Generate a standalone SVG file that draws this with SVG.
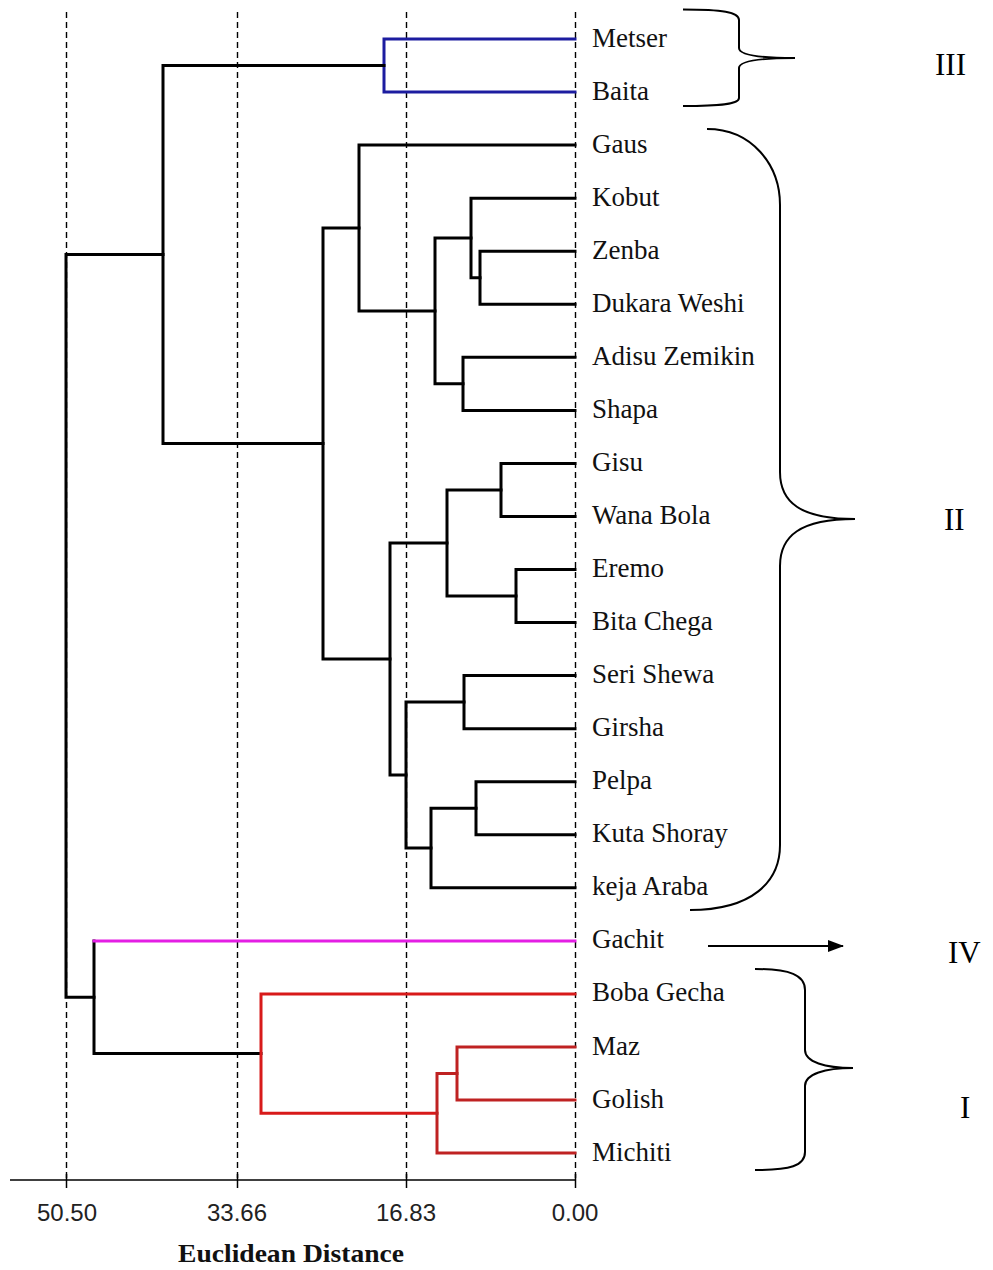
<svg xmlns="http://www.w3.org/2000/svg" width="993" height="1270" viewBox="0 0 993 1270">
<defs>
<style>
.grid{stroke:#000;stroke-width:1.4;stroke-dasharray:6,4;fill:none}
.br{stroke:#000;stroke-width:3;fill:none}
.bk{stroke:#000}
.bl{stroke:#1c1ca0}
.pk{stroke:#e41ee4}
.rd{stroke:#d81a1a}
.rd2{stroke:#bf2222}
.lab{font-family:"Liberation Serif","Times New Roman",serif;font-size:27px;fill:#111}
.num{font-family:"Liberation Serif","Times New Roman",serif;font-size:31px;fill:#000}
.ax{font-family:"Liberation Sans",Arial,sans-serif;font-size:24px;fill:#222;text-anchor:middle}
.brace{stroke:#000;stroke-width:2;fill:none}
</style>
<marker id="arr" markerWidth="16" markerHeight="12" refX="15" refY="6" orient="auto" markerUnits="userSpaceOnUse">
<path d="M0,0 L16,6 L0,12 Z" fill="#000"/>
</marker>
</defs>
<rect width="993" height="1270" fill="#fff"/>
<g id="grid">
<line class="grid" x1="66.5" y1="12" x2="66.5" y2="1180"/>
<line class="grid" x1="237.5" y1="12" x2="237.5" y2="1180"/>
<line class="grid" x1="406.5" y1="12" x2="406.5" y2="1180"/>
<line class="grid" x1="575.5" y1="12" x2="575.5" y2="1180"/>
</g>
<g id="axis" stroke="#000" stroke-width="1.5">
<line x1="10" y1="1180" x2="576" y2="1180"/>
<line x1="66.5" y1="1174" x2="66.5" y2="1188"/>
<line x1="237.5" y1="1174" x2="237.5" y2="1188"/>
<line x1="406.5" y1="1174" x2="406.5" y2="1188"/>
<line x1="575.5" y1="1174" x2="575.5" y2="1188"/>
</g>
<g id="axis-labels">
<text class="ax" x="67" y="1221">50.50</text>
<text class="ax" x="237" y="1221">33.66</text>
<text class="ax" x="406" y="1221">16.83</text>
<text class="ax" x="575" y="1221">0.00</text>
<text x="291" y="1262" text-anchor="middle" font-family="'Liberation Serif','Times New Roman',serif" font-weight="bold" font-size="26" textLength="226" lengthAdjust="spacingAndGlyphs" fill="#111">Euclidean Distance</text>
</g>
<g id="connectors" fill="none" stroke-width="3" stroke-linejoin="miter" stroke-linecap="square">
<path class="bl" d="M575,39 H384 V92 H575"/>
<path class="bk" d="M384,65.5 H163 V443.5 H323"/>
<path class="bk" d="M575,251.2 H480 V304.3 H575"/>
<path class="bk" d="M575,198.2 H471 V277.7 H480"/>
<path class="bk" d="M575,357.3 H463 V410.4 H575"/>
<path class="bk" d="M471,238 H435 V383.8 H463"/>
<path class="bk" d="M575,145.1 H359 V310.9 H435"/>
<path class="bk" d="M575,463.4 H501 V516.5 H575"/>
<path class="bk" d="M575,569.5 H516 V622.6 H575"/>
<path class="bk" d="M501,490 H447 V596 H516"/>
<path class="bk" d="M575,675.6 H464 V728.7 H575"/>
<path class="bk" d="M575,781.7 H476 V834.8 H575"/>
<path class="bk" d="M476,808.2 H431 V887.8 H575"/>
<path class="bk" d="M464,702.1 H406 V848 H431"/>
<path class="bk" d="M447,543 H390 V775 H406"/>
<path class="bk" d="M359,228 H323 V659 H390"/>
<path class="bk" d="M163,254.5 H66 V997.2 H94"/>
<path class="bk" d="M94,940.9 V1053.6 H261"/>
<path class="pk" d="M575,940.9 H94"/>
<path class="rd" d="M575,993.9 H261 V1113.3 H437"/>
<path class="rd2" d="M575,1047 H457 V1100 H575"/>
<path class="rd2" d="M457,1073.5 H437 V1153 H575"/>
</g>
<g id="leaves" class="lab">
<text id="n-metser" x="592" y="47">Metser</text>
<text id="n-baita" x="592" y="100">Baita</text>
<text id="n-gaus" x="592" y="153">Gaus</text>
<text id="n-kobut" x="592" y="206">Kobut</text>
<text id="n-zenba" x="592" y="259">Zenba</text>
<text id="n-dukara" x="592" y="312">Dukara Weshi</text>
<text id="n-adisu" x="592" y="365">Adisu Zemikin</text>
<text id="n-shapa" x="592" y="418">Shapa</text>
<text id="n-gisu" x="592" y="471">Gisu</text>
<text id="n-wana" x="592" y="524">Wana Bola</text>
<text id="n-eremo" x="592" y="577">Eremo</text>
<text id="n-bita" x="592" y="630">Bita Chega</text>
<text id="n-seri" x="592" y="683">Seri Shewa</text>
<text id="n-girsha" x="592" y="736">Girsha</text>
<text id="n-pelpa" x="592" y="789">Pelpa</text>
<text id="n-kuta" x="592" y="842">Kuta Shoray</text>
<text id="n-keja" x="592" y="895">keja Araba</text>
<text id="n-gachit" x="592" y="948">Gachit</text>
<text id="n-boba" x="592" y="1001">Boba Gecha</text>
<text id="n-maz" x="592" y="1055">Maz</text>
<text id="n-golish" x="592" y="1108">Golish</text>
<text id="n-michiti" x="592" y="1161">Michiti</text>
</g>
<g id="group-III">
<path class="brace" d="M683,9.5 C722,9.5 739,12 739,20 L739,48 C739,54 755,58 795,58 C755,58 739,62 739,68 L739,98 C739,104 722,106 683,106"/>
<text class="num" x="935" y="75">III</text>
</g>
<g id="group-II">
<path class="brace" d="M707,129 C752,129 780,165 780,205 L780,472 C780,502 800,519 855,519 C800,519 780,536 780,566 L780,845 C780,882 752,910 690,910"/>
<text class="num" x="944" y="530">II</text>
</g>
<g id="group-IV">
<line x1="708" y1="946" x2="843" y2="946" stroke="#000" stroke-width="2" marker-end="url(#arr)"/>
<text class="num" x="948" y="963">IV</text>
</g>
<g id="group-I">
<path class="brace" d="M755,969 C790,969 805,975 805,990 L805,1050 C805,1062 825,1068 853,1068 C825,1068 805,1074 805,1086 L805,1152 C805,1166 790,1170 755,1170"/>
<text class="num" x="960" y="1118">I</text>
</g>
</svg>
